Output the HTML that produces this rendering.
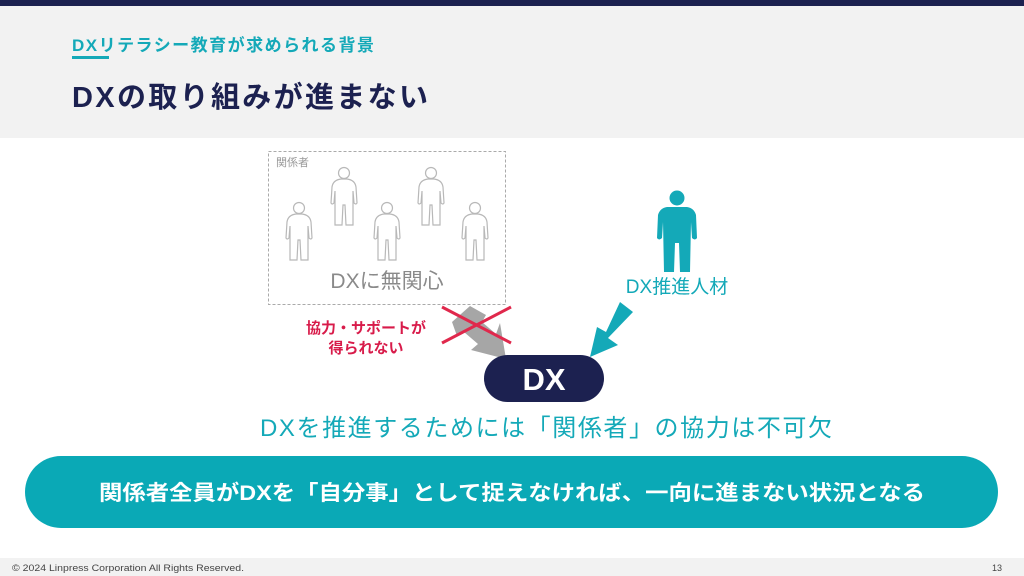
<!DOCTYPE html>
<html><head><meta charset="utf-8"><style>
html,body{margin:0;padding:0;background:#fff}
svg{display:block}
text{font-family:"Liberation Sans","Noto Sans CJK JP",sans-serif}
</style></head><body>
<svg width="1024" height="576" viewBox="0 0 1024 576" xmlns="http://www.w3.org/2000/svg">
<defs>
<g id="p" fill="none" stroke="#b8b8b8" stroke-width="1.2">
<circle cx="0" cy="6" r="5.5"/>
<path d="M-3,12 L3,12 Q11,13 12,20 L13,36 Q12,38 10,36 L9,24 L9,58 L2,58 L1,38 L-1,38 L-2,58 L-9,58 L-9,24 L-10,36 Q-12,38 -13,36 L-12,20 Q-11,13 -3,12 Z"/>
</g>
</defs>
<rect x="0" y="0" width="1024" height="6" fill="#1c2150"/>
<rect x="0" y="6" width="1024" height="132" fill="#f2f2f2"/>
<text x="72" y="51" font-size="17" font-weight="bold" fill="#14a9b8" textLength="302">DXリテラシー教育が求められる背景</text>
<rect x="72" y="56" width="37" height="3" fill="#14a9b8"/>
<text x="72" y="107" font-size="29" font-weight="bold" fill="#1c2150" textLength="356">DXの取り組みが進まない</text>

<rect x="268.5" y="151.5" width="237" height="153" fill="none" stroke="#aaa" stroke-dasharray="3,2"/>
<text x="276" y="166" font-size="11" fill="#999">関係者</text>
<use href="#p" x="299" y="202"/>
<use href="#p" x="344" y="167"/>
<use href="#p" x="387" y="202"/>
<use href="#p" x="431" y="167"/>
<use href="#p" x="475" y="202"/>
<text x="387" y="288" font-size="21" fill="#8a8a8a" text-anchor="middle">DXに無関心</text>

<polygon points="470,306 486,315 482,322 496,334 500,323 506,359 471,350 478,344 464,332 457,336 452,322" fill="#a6a6a6"/>
<line x1="442" y1="307" x2="511" y2="343" stroke="#e0284c" stroke-width="3"/>
<line x1="511" y1="307" x2="442" y2="343" stroke="#e0284c" stroke-width="3"/>
<text x="366" y="333" font-size="15" font-weight="bold" fill="#d81b4a" text-anchor="middle">協力・サポートが</text>
<text x="366" y="353" font-size="15" font-weight="bold" fill="#d81b4a" text-anchor="middle">得られない</text>

<g fill="#14a9b8">
<circle cx="677" cy="198" r="7.5"/>
<path d="M667,207 L687,207 Q694,208 696,215 L697,238 Q695,241 692,238 L691,222 L690,272 L680,272 L679,243 L675,243 L674,272 L664,272 L663,222 L662,238 Q659,241 657,238 L658,215 Q660,208 667,207 Z"/>
</g>
<text x="677" y="293" font-size="19" fill="#14a9b8" text-anchor="middle">DX推進人材</text>
<polygon points="620,302 633,312 608,338 618,345 590,357 597,327 606,332" fill="#14a9b8"/>

<rect x="484" y="355" width="120" height="47" rx="23.5" fill="#1c2150"/>
<text x="544" y="390" font-size="31" font-weight="bold" fill="#fff" text-anchor="middle">DX</text>
<text x="546" y="436" font-size="24" fill="#14a9b8" text-anchor="middle" textLength="572">DXを推進するためには「関係者」の協力は不可欠</text>

<rect x="25" y="456" width="973" height="72" rx="36" fill="#0aa9b6"/>
<text x="512" y="500" font-size="21" font-weight="bold" fill="#fff" text-anchor="middle" textLength="826" lengthAdjust="spacingAndGlyphs">関係者全員がDXを「自分事」として捉えなければ、一向に進まない状況となる</text>

<rect x="0" y="558" width="1024" height="18" fill="#f2f2f2"/>
<text x="12" y="571" font-size="9" fill="#444" textLength="232" lengthAdjust="spacingAndGlyphs">© 2024 Linpress Corporation All Rights Reserved.</text>
<text x="1002" y="571" font-size="9" fill="#444" text-anchor="end">13</text>
</svg>
</body></html>
